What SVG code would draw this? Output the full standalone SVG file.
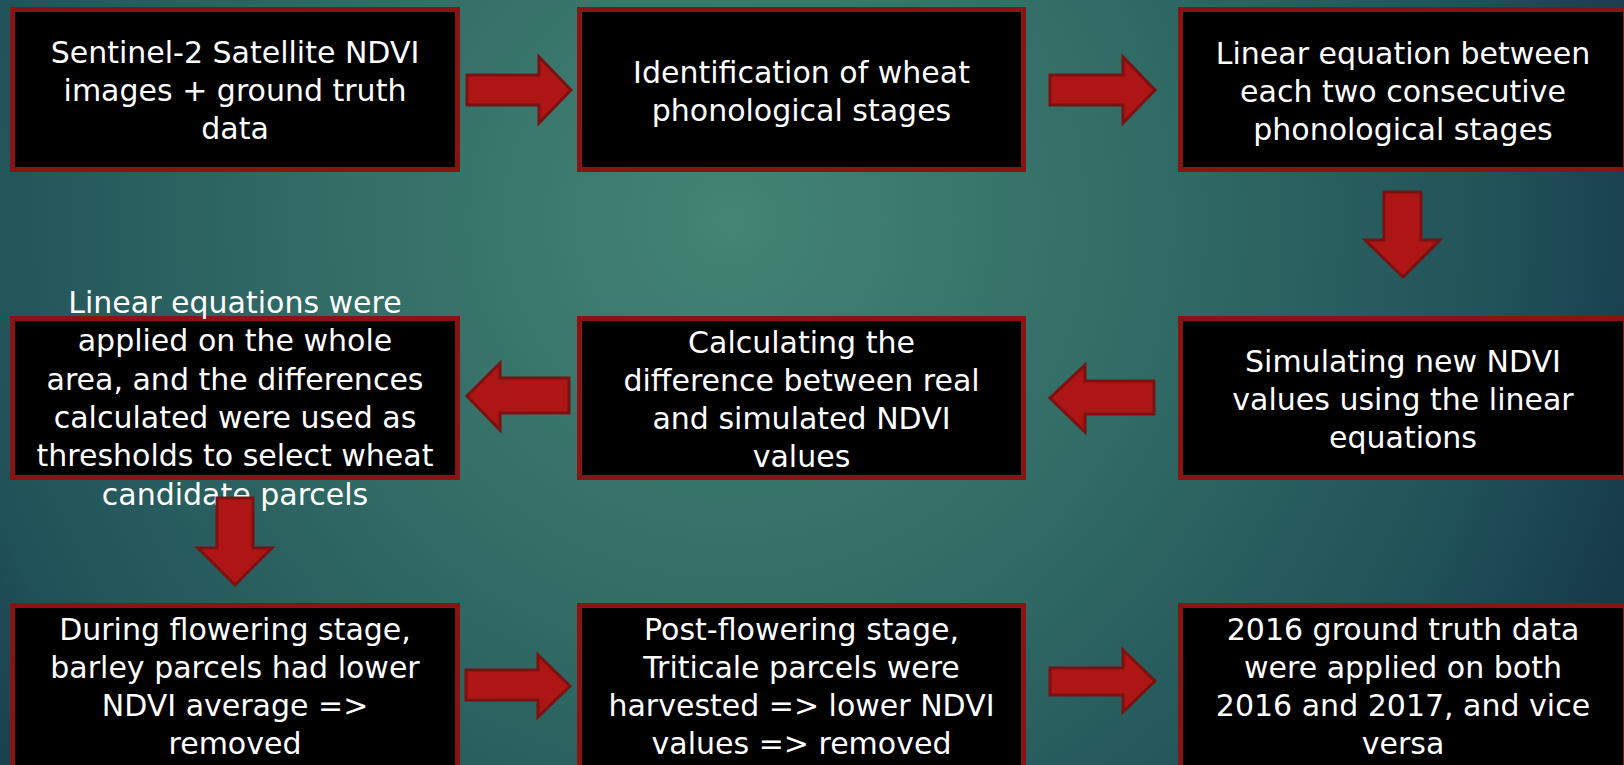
<svg xmlns="http://www.w3.org/2000/svg" width="1624" height="765" viewBox="0 0 1624 765">
  <defs>
    <radialGradient id="bg" gradientUnits="userSpaceOnUse" cx="730" cy="220" r="960">
      <stop offset="0" stop-color="#438474"/>
      <stop offset="0.45" stop-color="#316b65"/>
      <stop offset="0.8" stop-color="#215259"/>
      <stop offset="1" stop-color="#163a4a"/>
    </radialGradient>
    <style>
      .box { fill: #000000; stroke: #8a1313; stroke-width: 5; }
      .lbl { fill: #ffffff; font-family: "DejaVu Sans", "Liberation Sans", sans-serif; font-size: 30px; text-anchor: middle; }
      .arrow { fill: #ae1616; stroke: #7c1111; stroke-width: 3; stroke-linejoin: miter; }
    </style>
  </defs>
  <rect x="0" y="0" width="1624" height="765" fill="url(#bg)"/>

  <g id="node-sentinel">
    <rect class="box" x="12.5" y="9.5" width="445" height="160"/>
    <text class="lbl" x="235" y="63">Sentinel-2 Satellite NDVI</text>
    <text class="lbl" x="235" y="101">images + ground truth</text>
    <text class="lbl" x="235" y="139">data</text>
  </g>
  <g id="node-identification">
    <rect class="box" x="579.5" y="9.5" width="444" height="160"/>
    <text class="lbl" x="801.5" y="83">Identification of wheat</text>
    <text class="lbl" x="801.5" y="121">phonological stages</text>
  </g>
  <g id="node-linear-equation">
    <rect class="box" x="1180.5" y="9.5" width="445" height="160"/>
    <text class="lbl" x="1403" y="64">Linear equation between</text>
    <text class="lbl" x="1403" y="102">each two consecutive</text>
    <text class="lbl" x="1403" y="140">phonological stages</text>
  </g>
  <g id="node-simulating">
    <rect class="box" x="1180.5" y="318.5" width="445" height="159"/>
    <text class="lbl" x="1403" y="372">Simulating new NDVI</text>
    <text class="lbl" x="1403" y="410">values using the linear</text>
    <text class="lbl" x="1403" y="448">equations</text>
  </g>
  <g id="node-calculating">
    <rect class="box" x="579.5" y="318.5" width="444" height="159"/>
    <text class="lbl" x="801.5" y="353">Calculating the</text>
    <text class="lbl" x="801.5" y="391">difference between real</text>
    <text class="lbl" x="801.5" y="429">and simulated NDVI</text>
    <text class="lbl" x="801.5" y="467">values</text>
  </g>
  <g id="node-thresholds">
    <rect class="box" x="12.5" y="318.5" width="445" height="159"/>
    <text class="lbl" x="235" y="313">Linear equations were</text>
    <text class="lbl" x="235" y="351">applied on the whole</text>
    <text class="lbl" x="235" y="390">area, and the differences</text>
    <text class="lbl" x="235" y="428">calculated were used as</text>
    <text class="lbl" x="235" y="466">thresholds to select wheat</text>
    <text class="lbl" x="235" y="505">candidate parcels</text>
  </g>
  <g id="node-flowering">
    <rect class="box" x="12.5" y="605.5" width="445" height="165"/>
    <text class="lbl" x="235" y="640">During flowering stage,</text>
    <text class="lbl" x="235" y="678">barley parcels had lower</text>
    <text class="lbl" x="235" y="716">NDVI average =&gt;</text>
    <text class="lbl" x="235" y="754">removed</text>
  </g>
  <g id="node-post-flowering">
    <rect class="box" x="579.5" y="605.5" width="444" height="165"/>
    <text class="lbl" x="801.5" y="640">Post-flowering stage,</text>
    <text class="lbl" x="801.5" y="678">Triticale parcels were</text>
    <text class="lbl" x="801.5" y="716">harvested =&gt; lower NDVI</text>
    <text class="lbl" x="801.5" y="754">values =&gt; removed</text>
  </g>
  <g id="node-ground-truth">
    <rect class="box" x="1180.5" y="605.5" width="445" height="165"/>
    <text class="lbl" x="1403" y="640">2016 ground truth data</text>
    <text class="lbl" x="1403" y="678">were applied on both</text>
    <text class="lbl" x="1403" y="716">2016 and 2017, and vice</text>
    <text class="lbl" x="1403" y="754">versa</text>
  </g>

  <g id="connectors">
    <polygon class="arrow" points="467,75 539,75 539,57 571,90 539,123 539,105 467,105"/>
    <polygon class="arrow" points="1050,75 1123,75 1123,57 1155,90 1123,123 1123,105 1050,105"/>
    <polygon class="arrow" points="1384,192 1421,192 1421,240 1440,240 1403,277 1365,240 1384,240"/>
    <polygon class="arrow" points="1154,381 1085,381 1085,365 1050,398 1085,432 1085,414 1154,414"/>
    <polygon class="arrow" points="569,378 500,378 500,363 467,396 500,430 500,413 569,413"/>
    <polygon class="arrow" points="217,498 253,498 253,548 272,548 235,585 198,548 217,548"/>
    <polygon class="arrow" points="466,670 538,670 538,655 570,686 538,717 538,700 466,700"/>
    <polygon class="arrow" points="1050,668 1123,668 1123,650 1155,681 1123,712 1123,695 1050,695"/>
  </g>
</svg>
